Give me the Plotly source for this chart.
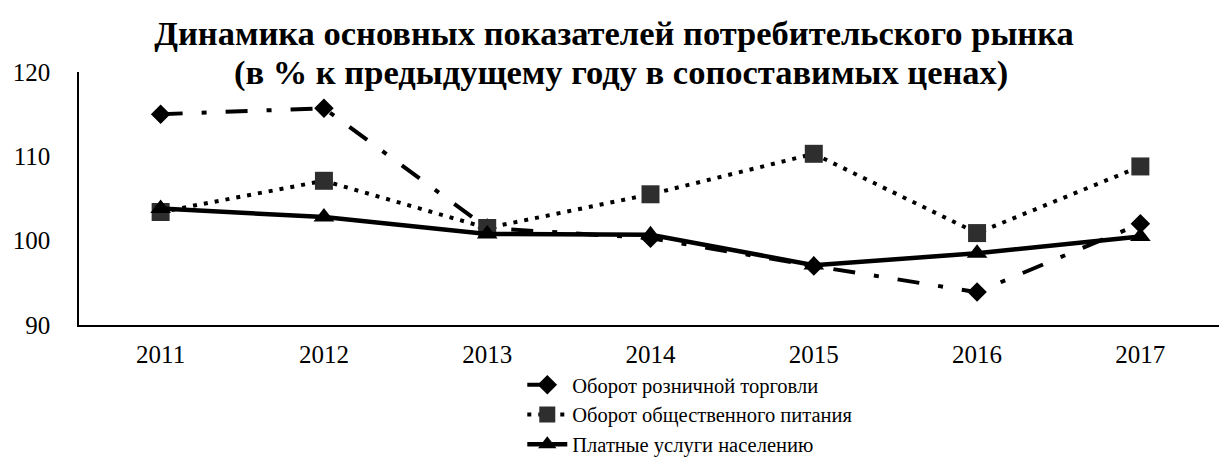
import plotly.graph_objects as go

years = ["2011", "2012", "2013", "2014", "2015", "2016", "2017"]
retail = [115.0, 115.7, 101.5, 100.3, 97.0, 93.9, 102.0]
catering = [103.4, 107.1, 101.5, 105.5, 110.3, 100.9, 108.8]
services = [103.8, 102.8, 100.8, 100.7, 97.1, 98.5, 100.5]

names = ["Оборот розничной торговли", "Оборот общественного питания", "Платные услуги населению"]
y_ticks = [90, 100, 110, 120]
title_line1 = "Динамика основных показателей потребительского рынка"
title_line2 = "(в % к предыдущему году в сопоставимых ценах)"

SERIF = "Liberation Serif, Times New Roman, serif"

# page body has an 8px margin; figure is sized so that it ends at the window edge
W, H = 1219, 467
ML, MR, MT, MB = 64, 5, 64, 150
PW = W - ML - MR
PH = H - MT - MB

fig = go.Figure()
fig.add_trace(go.Scatter(
    x=years, y=retail, name=names[0], mode="lines+markers",
    line=dict(color="black", width=4, dash="22px,19px,5px,19px"),
    marker=dict(symbol="diamond", size=15, color="black"),
))
fig.add_trace(go.Scatter(
    x=years, y=catering, name=names[1], mode="lines+markers",
    line=dict(color="black", width=4, dash="4px,7px"),
    marker=dict(symbol="square", size=18, color="#2e2e2e"),
))
fig.add_trace(go.Scatter(
    x=years, y=services, name=names[2], mode="lines+markers",
    line=dict(color="black", width=4.5),
    marker=dict(symbol="triangle-up", size=18, color="black"),
))

fig.update_layout(
    width=W, height=H,
    margin=dict(l=ML, r=MR, t=MT, b=MB),
    paper_bgcolor="white", plot_bgcolor="white",
    font=dict(family=SERIF, color="black", size=25),
    title=dict(
        text="<b>" + title_line1 + "</b>",
        x=(614 - 8) / W, xref="container", xanchor="center",
        y=1 - (33 - 8) / H, yref="container", yanchor="middle",
        font=dict(family=SERIF, size=34.5, color="black"),
    ),
    annotations=[dict(
        text="<b>" + title_line2 + "</b>",
        x=(617 - 72) / PW, xref="paper", xanchor="center",
        y=1 + (72 - 72) / PH, yref="paper", yanchor="middle",
        showarrow=False,
        font=dict(family=SERIF, size=34.5, color="black"),
    )],
    showlegend=True,
    legend=dict(
        x=(518 - 72) / PW, xanchor="left", xref="paper",
        y=-40 / PH, yanchor="top", yref="paper",
        font=dict(family=SERIF, size=20.5, color="black"),
        bgcolor="rgba(0,0,0,0)", traceorder="normal",
        itemwidth=40,
    ),
    xaxis=dict(
        type="category", range=[-0.5, 6.5],
        showline=True, linecolor="black", linewidth=1.5,
        showgrid=False, zeroline=False, ticks="",
        ticklabelstandoff=6,
        tickfont=dict(family=SERIF, size=25),
    ),
    yaxis=dict(
        range=[90, 120], tickvals=y_ticks,
        showline=True, linecolor="black", linewidth=1.5,
        showgrid=False, zeroline=False, ticks="",
        ticklabelstandoff=22,
        tickfont=dict(family=SERIF, size=25),
    ),
)

fig.write_html("out.html")
